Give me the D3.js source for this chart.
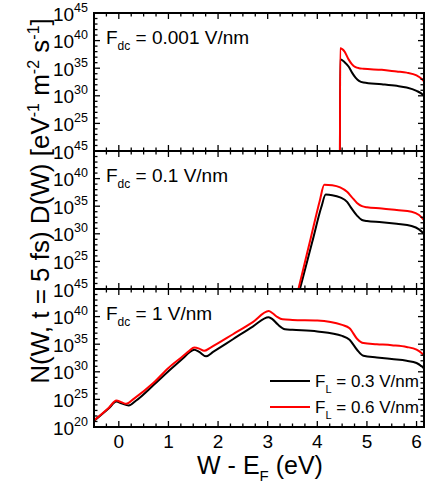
<!DOCTYPE html>
<html>
<head>
<meta charset="utf-8">
<script src="https://cdn.jsdelivr.net/npm/d3@7"></script>
<style>
  body { margin: 0; background: #fff; }
  text { font-family: "Liberation Sans", Arial, sans-serif; fill: #000; }
</style>
</head>
<body>
<div id="chart"></div>
<script>
// log10 of N(W) D(W)
const panelLabels = ["0.001 V/nm", "0.1 V/nm", "1 V/nm"];
const seriesNames = ["0.3 V/nm", "0.6 V/nm"];
const seriesColors = ["#000000", "#ff0000"];

const p1W = [4.455, 4.46, 4.55, 4.63, 4.7, 4.77, 4.84, 4.93, 5.3, 5.6, 5.8, 6.0, 6.1, 6.15];
const p1Black = [14, 36.6, 36.1, 35.3, 34.2, 33.3, 32.7, 32.4, 32.1, 31.8, 31.5, 30.9, 30.4, 30.0];
const p1Red = [14, 38.6, 38.0, 36.6, 35.7, 35.2, 35.0, 34.9, 34.7, 34.4, 34.2, 33.7, 33.1, 32.6];

const p2BlackW = [3.55, 3.65, 3.9, 4.08, 4.17, 4.3, 4.46, 4.6, 4.69, 4.8, 4.9, 5.0, 5.3, 5.6, 5.9, 6.05, 6.15];
const p2Black = [16.6, 20, 28.6, 34.8, 37.1, 37.0, 36.6, 35.8, 34.6, 33.3, 32.5, 32.3, 32.1, 31.8, 31.4, 30.8, 30.0];
const p2RedW = [3.52, 3.62, 3.87, 4.05, 4.14, 4.3, 4.46, 4.6, 4.69, 4.8, 4.9, 5.0, 5.3, 5.6, 5.9, 6.05, 6.15];
const p2Red = [16.3, 20, 29.3, 36.0, 38.9, 38.8, 38.4, 37.6, 36.7, 35.6, 35.0, 34.8, 34.6, 34.3, 34.0, 33.4, 32.5];

const p3BlackW = [-0.5, -0.2, -0.05, 0.05, 0.2, 0.35, 0.7, 1.0, 1.3, 1.42, 1.52, 1.62, 1.76, 1.9, 2.3, 2.7, 3.02, 3.1, 3.2, 3.35, 3.5, 4.0, 4.5, 4.65, 4.8, 4.93, 5.2, 5.5, 5.8, 6.0, 6.1, 6.15];
const p3Black = [21.1, 23.4, 24.6, 24.3, 23.9, 24.8, 27.6, 30.1, 32.5, 33.5, 34.0, 33.6, 32.8, 33.6, 35.9, 38.2, 39.9, 39.5, 38.6, 37.7, 37.6, 37.3, 36.5, 35.8, 34.0, 32.9, 32.6, 32.3, 32.0, 31.6, 31.0, 30.6];
const p3RedW = [-0.5, -0.2, -0.05, 0.05, 0.15, 0.3, 0.7, 1.0, 1.3, 1.42, 1.52, 1.62, 1.72, 1.85, 2.3, 2.7, 3.02, 3.1, 3.2, 3.3, 3.5, 4.0, 4.5, 4.65, 4.8, 4.93, 5.2, 5.5, 5.8, 6.0, 6.1, 6.15];
const p3Red = [21.2, 23.5, 24.8, 24.5, 24.2, 25.1, 28.0, 30.7, 32.9, 33.8, 34.4, 34.2, 33.8, 34.4, 36.8, 39.0, 41.0, 40.6, 39.9, 39.5, 39.4, 39.3, 38.5, 37.9, 36.0, 35.2, 35.0, 34.8, 34.5, 34.0, 33.4, 33.0];

const xTicks = [0, 1, 2, 3, 4, 5, 6];
const yTickExps = [45, 40, 35, 30, 25];

const panels = [
  { label: panelLabels[0], series: [[p1W, p1Black], [p1W, p1Red]] },
  { label: panelLabels[1], series: [[p2BlackW, p2Black], [p2RedW, p2Red]] },
  { label: panelLabels[2], series: [[p3BlackW, p3Black], [p3RedW, p3Red]] }
];

const svgW = 426, svgH = 489;
const left = 94, right = 424, top0 = 13, panelH = 138;

const svg = d3.select("#chart").append("svg")
  .attr("width", svgW)
  .attr("height", svgH);

const x = d3.scaleLinear().domain([-0.5, 6.15]).range([left, right]);

panels.forEach((p, i) => {
  const top = top0 + i * panelH;
  const bottom = top + panelH;
  const y = d3.scaleLog().domain([1e20, 1e45]).range([bottom, top]);

  const g = svg.append("g");

  svg.append("clipPath").attr("id", "clip" + i)
    .append("rect")
    .attr("x", left).attr("y", top)
    .attr("width", right - left).attr("height", panelH);

  const line = d3.line()
    .x(d => x(d[0]))
    .y(d => y(Math.pow(10, d[1])))
    .curve(d3.curveMonotoneX);

  p.series.forEach((s, k) => {
    const pts = s[0].map((w, j) => [w, s[1][j]]);
    g.append("path")
      .attr("clip-path", `url(#clip${i})`)
      .attr("d", line(pts))
      .attr("fill", "none")
      .attr("stroke", seriesColors[k])
      .attr("stroke-width", 2);
  });

  // inward ticks on all sides
  const minorX = d3.range(-0.5, 6.151, 0.25);
  minorX.forEach(v => {
    const major = Math.abs(v - Math.round(v)) < 1e-6;
    const len = major ? 6 : 3.5;
    g.append("line").attr("x1", x(v)).attr("x2", x(v)).attr("y1", bottom).attr("y2", bottom - len)
      .attr("stroke", "#000").attr("stroke-width", 1.3);
    g.append("line").attr("x1", x(v)).attr("x2", x(v)).attr("y1", top).attr("y2", top + len)
      .attr("stroke", "#000").attr("stroke-width", 1.3);
  });
  d3.range(20, 46).forEach(e => {
    const major = e % 5 === 0;
    const len = major ? 6 : 3.5;
    const yy = y(Math.pow(10, e));
    g.append("line").attr("x1", left).attr("x2", left + len).attr("y1", yy).attr("y2", yy)
      .attr("stroke", "#000").attr("stroke-width", 1.3);
    g.append("line").attr("x1", right).attr("x2", right - len).attr("y1", yy).attr("y2", yy)
      .attr("stroke", "#000").attr("stroke-width", 1.3);
  });

  g.append("rect")
    .attr("x", left).attr("y", top)
    .attr("width", right - left).attr("height", panelH)
    .attr("fill", "none").attr("stroke", "#000").attr("stroke-width", 2);

  // y tick labels
  const exps = i === 2 ? yTickExps.concat([20]) : yTickExps;
  exps.forEach(e => {
    const t = svg.append("text")
      .attr("x", left - 6)
      .attr("y", y(Math.pow(10, e)) + 7.5)
      .attr("text-anchor", "end")
      .style("font-size", "19px");
    t.append("tspan").text("10");
    t.append("tspan").attr("dy", -9).style("font-size", "12.5px").text(e);
  });

  // panel label
  const lab = svg.append("text").attr("x", left + 12).attr("y", top + 31).style("font-size", "19px");
  lab.append("tspan").text("F");
  lab.append("tspan").attr("dy", 6).style("font-size", "12px").text("dc");
  lab.append("tspan").attr("dy", -6).text(" = " + p.label);

  if (i === 2) {
    xTicks.forEach(v => {
      svg.append("text")
        .attr("x", x(v)).attr("y", bottom + 21)
        .attr("text-anchor", "middle")
        .style("font-size", "19px")
        .text(v);
    });

    // legend
    seriesNames.forEach((n, k) => {
      const ly = 381 + k * 26;
      svg.append("line").attr("x1", 270).attr("x2", 310).attr("y1", ly).attr("y2", ly)
        .attr("stroke", seriesColors[k]).attr("stroke-width", 2);
      const lt = svg.append("text").attr("x", 315).attr("y", ly + 6).style("font-size", "17px");
      lt.append("tspan").text("F");
      lt.append("tspan").attr("dy", 6).style("font-size", "11px").text("L");
      lt.append("tspan").attr("dy", -6).text(" = " + n);
    });
  }
});

// axis titles
const xt = svg.append("text")
  .attr("x", 260).attr("y", 474)
  .attr("text-anchor", "middle")
  .style("font-size", "25px");
xt.append("tspan").text("W - E");
xt.append("tspan").attr("dy", 7).style("font-size", "15px").text("F");
xt.append("tspan").attr("dy", -7).text(" (eV)");

const yt = svg.append("text")
  .attr("transform", "translate(49,201) rotate(-90)")
  .attr("text-anchor", "middle")
  .style("font-size", "26px");
yt.append("tspan").text("N(W, t = 5 fs) D(W) [eV");
yt.append("tspan").attr("dy", -10).style("font-size", "16px").text("-1");
yt.append("tspan").attr("dy", 10).text(" m");
yt.append("tspan").attr("dy", -10).style("font-size", "16px").text("-2");
yt.append("tspan").attr("dy", 10).text(" s");
yt.append("tspan").attr("dy", -10).style("font-size", "16px").text("-1");
yt.append("tspan").attr("dy", 10).text("]");
</script>
</body>
</html>
